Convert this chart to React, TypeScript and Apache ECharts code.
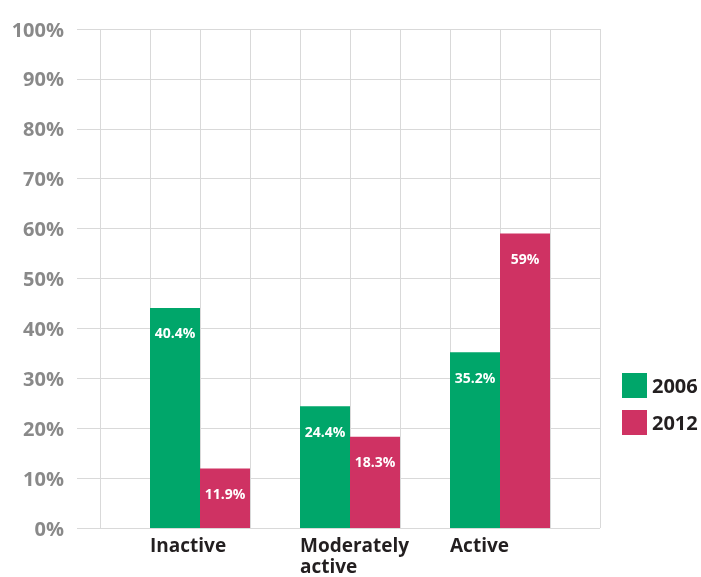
import React, { useEffect, useRef } from "react";
import * as echarts from "echarts";

const categories = ["Inactive", "Moderately\nactive", "Active"];
const seriesNames = ["2006", "2012"];
const values2006 = [44.1, 24.4, 35.2];
const values2012 = [11.9, 18.3, 59];
const labels2006 = ["40.4%", "24.4%", "35.2%"];
const labels2012 = ["11.9%", "18.3%", "59%"];
const colors = ["#00A66A", "#CF3263"];
const FONT = "'Open Sans', sans-serif";

export default function App() {
  const ref = useRef<HTMLDivElement>(null);
  useEffect(() => {
    if (!ref.current) return;
    const chart = echarts.init(ref.current, undefined, { renderer: "svg" });
    const gridLine = { show: true, lineStyle: { color: "#d9d9d9", width: 1 } };
    const hiddenY = { type: "value", min: 0, max: 100, interval: 10, show: false };
    const mkLabel = (arr: string[]) => ({
      show: true,
      position: "insideTop",
      distance: 18,
      color: "#ffffff",
      fontFamily: FONT,
      fontWeight: "bold",
      fontSize: 14,
      formatter: (p: any) => arr[p.dataIndex],
    });
    chart.setOption({
      animation: false,
      textStyle: { fontFamily: FONT },
      grid: [
        { left: 77, right: 101, top: 29, bottom: 49 },
        { left: 100, right: 101, top: 29, bottom: 49 },
        { left: 125, right: 126, top: 29, bottom: 49 },
      ],
      xAxis: [
        { type: "value", gridIndex: 0, show: false, min: 0, max: 1 },
        {
          type: "value",
          gridIndex: 1,
          min: 0,
          max: 10,
          interval: 1,
          axisLabel: { show: false },
          axisLine: { show: false },
          axisTick: { show: false },
          splitLine: gridLine,
        },
        {
          type: "category",
          gridIndex: 2,
          data: categories,
          axisLine: { show: false },
          axisTick: { show: false },
          axisLabel: {
            margin: 6,
            align: "center",
            formatter: (v: string) =>
              v.split("\n").map((s) => `{a|${s}}`).join("\n"),
            rich: {
              a: {
                width: 100,
                align: "left",
                fontFamily: FONT,
                fontSize: 19,
                fontWeight: "bold",
                color: "#231F20",
                lineHeight: 21,
              },
            },
          },
        },
      ],
      yAxis: [
        {
          type: "value",
          gridIndex: 0,
          min: 0,
          max: 100,
          interval: 10,
          axisLine: { show: false },
          axisTick: { show: false },
          splitLine: gridLine,
          axisLabel: {
            margin: 13,
            formatter: "{value}%",
            color: "#898989",
            fontFamily: FONT,
            fontWeight: "bold",
            fontSize: 20,
          },
        },
        { ...hiddenY, gridIndex: 1 },
        { ...hiddenY, gridIndex: 2 },
      ],
      legend: {
        data: seriesNames,
        orient: "vertical",
        left: 617,
        top: 368,
        icon: "rect",
        itemWidth: 25,
        itemHeight: 25,
        itemGap: 12,
        textStyle: {
          fontFamily: FONT,
          fontSize: 20,
          fontWeight: "bold",
          color: "#231F20",
        },
      },
      series: [
        {
          name: seriesNames[0],
          type: "bar",
          xAxisIndex: 2,
          yAxisIndex: 2,
          data: values2006,
          barWidth: 50,
          barGap: "0%",
          itemStyle: { color: colors[0] },
          label: mkLabel(labels2006),
        },
        {
          name: seriesNames[1],
          type: "bar",
          xAxisIndex: 2,
          yAxisIndex: 2,
          data: values2012,
          barWidth: 50,
          barGap: "0%",
          itemStyle: { color: colors[1] },
          label: mkLabel(labels2012),
        },
      ],
    });
    return () => chart.dispose();
  }, []);
  return (
    <div
      ref={ref}
      style={{ position: "fixed", left: 0, top: 0, width: 701, height: 577 }}
    />
  );
}
